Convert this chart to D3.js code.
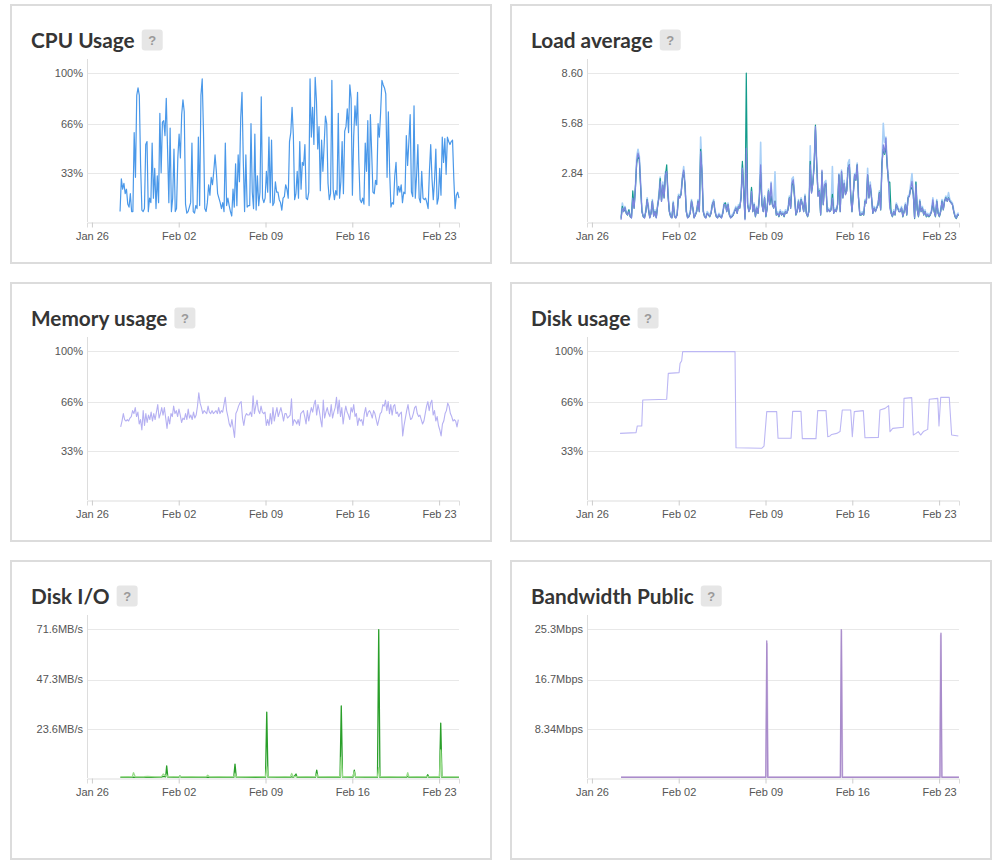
<!DOCTYPE html>
<html>
<head>
<meta charset="utf-8">
<script src="https://cdn.jsdelivr.net/npm/d3@7"></script>
<style>
  body { margin: 0; background: #fff; }
</style>
</head>
<body>
<script>
// days are counted from Jan 25 00:00, the view covers the last 30 days
var viewStart = 0.604, viewEnd = 30.604;
var tickDays = ['Jan 26', 'Feb 02', 'Feb 09', 'Feb 16', 'Feb 23'];

var cpuValues = [7,29,22,26,19,22,12,10,19,7,7,60,30,85,90,85,38,8,7,9,52,54,7,16,13,53,16,36,9,31,
  13,73,33,67,68,58,83,49,13,63,7,16,49,7,9,43,59,43,72,82,74,12,6,7,10,13,53,7,6,11,
  9,57,11,85,96,60,9,7,13,25,18,30,25,34,45,34,19,16,13,9,13,7,53,11,16,11,7,4,22,10,
  39,11,45,27,70,87,41,7,45,10,11,11,66,20,9,59,8,31,11,20,84,16,13,16,34,20,57,13,55,11,
  13,27,20,20,15,13,8,16,17,25,22,16,54,60,
  77,58,15,19,34,16,54,22,40,38,52,16,15,20,96,57,77,52,97,81,49,64,21,55,34,52,71,66,26,15,
  19,95,22,15,21,18,73,16,27,54,19,61,64,76,60,92,83,18,57,78,65,87,41,15,13,16,12,53,34,68,
  11,72,47,20,19,28,25,66,57,74,95,92,90,86,30,74,34,10,13,12,31,40,18,24,20,25,13,20,19,58,
  38,54,72,20,17,78,16,31,52,16,13,34,16,15,16,13,9,34,52,29,15,28,49,12,16,36,18,57,40,56,
  32,57,54,52,54,55,29,9,18,20,16];
var cpuSpan = [3.27, 30.6];

var load1 = [0.2,0.9,0.6,0.8,0.5,0.4,0.7,0.3,0.25,1.8,0.8,2.0,3.4,3.8,3.6,2.0,0.6,0.3,0.25,0.6,
  1.3,0.7,0.25,0.5,1.2,0.35,0.6,0.25,0.9,1.4,2.5,1.2,2.1,1.4,2.7,3.3,1.5,0.6,0.3,0.25,
  1.1,0.3,0.25,0.4,1.5,1.4,1.6,2.5,2.9,2.1,0.6,0.25,0.3,0.5,1.2,0.8,0.25,0.4,0.6,1.2,
  0.6,4.2,2.8,0.6,0.3,0.25,0.5,0.4,0.3,0.5,1.0,1.2,0.6,0.3,0.25,0.4,0.3,0.25,0.5,1.0,
  1.1,0.6,1.0,0.4,0.25,0.3,0.4,0.6,0.8,0.5,0.9,0.8,1.4,3.5,1.8,0.2,8.6,1.0,0.6,0.8,
  2.0,0.6,1.0,0.3,0.8,0.5,1.4,2.85,1.0,0.6,1.4,0.3,0.8,1.8,1.0,1.5,1.0,0.8,1.2,0.4,
  0.5,0.3,0.6,0.4,0.5,0.3,0.6,0.5,0.7,1.4,0.8,
  2.1,2.3,1.4,0.4,0.6,1.2,0.6,1.3,1.0,0.6,1.5,0.5,0.3,0.6,3.5,1.7,2.2,3.2,5.6,3.2,
  1.5,1.8,0.4,2.9,1.0,2.1,2.2,0.6,0.7,0.6,0.7,1.6,0.5,0.7,0.6,1.0,2.7,0.6,2.9,1.4,
  2.2,1.6,1.8,3.1,3.3,1.6,0.6,1.6,2.7,2.4,3.3,1.4,0.4,0.4,0.5,0.4,1.2,1.1,2.7,1.4,
  2.1,1.4,0.5,0.8,0.6,0.8,1.0,1.7,0.7,3.4,4.2,3.9,4.4,3.2,2.3,2.3,0.5,0.3,0.6,0.4,
  1.0,0.8,0.6,0.6,0.8,0.3,0.6,1.0,0.4,1.4,1.5,1.9,2.0,1.6,0.2,2.3,0.7,0.3,1.2,0.6,
  0.8,0.4,0.6,0.3,0.4,0.3,0.4,0.6,1.1,0.6,0.3,1.2,0.5,0.3,0.6,1.2,0.7,1.2,1.4,1.2,
  1.4,1.2,1.1,1.0,0.6,0.3,0.2,0.4,0.4];
var load5 = [0.13,0.8,0.6,0.85,0.5,0.42,0.6,0.33,0.23,1.38,0.8,1.96,3.5,3.97,3.69,2.15,0.6,0.33,0.23,0.6,
  1.28,0.8,0.23,0.5,1.19,0.33,0.6,0.23,0.9,1.38,2.34,1.19,2.15,1.38,2.73,2.92,1.57,0.6,0.33,0.23,
  1.1,0.33,0.23,0.42,1.48,1.38,1.57,2.53,3.0,2.15,0.6,0.23,0.33,0.5,1.19,0.8,0.23,0.42,0.6,1.19,
  0.6,4.07,2.92,0.6,0.33,0.23,0.5,0.42,0.33,0.5,1.0,1.19,0.6,0.33,0.23,0.42,0.33,0.23,0.5,1.0,
  1.0,0.6,1.0,0.42,0.23,0.33,0.42,0.6,0.8,0.5,0.9,0.8,1.38,3.11,1.77,0.13,4.26,1.0,0.6,0.8,
  1.77,0.6,1.0,0.33,0.8,0.5,1.38,3.3,1.0,0.6,1.38,0.33,0.8,1.77,1.0,2.25,1.0,0.8,1.19,0.42,
  0.5,0.33,0.6,0.42,0.5,0.33,0.6,0.5,0.71,1.38,0.8,
  2.25,2.44,1.48,0.42,0.6,1.19,0.6,1.28,1.0,0.6,1.48,0.5,0.33,0.6,3.3,1.67,2.25,3.3,5.5,3.3,
  1.48,1.77,0.42,3.0,1.0,2.15,2.25,0.6,0.71,0.6,0.71,1.38,0.5,0.71,0.6,1.0,2.73,0.6,2.92,1.38,
  2.25,1.57,1.77,3.11,3.3,1.57,0.6,1.57,2.73,2.44,3.3,1.38,0.42,0.42,0.5,0.42,1.19,1.1,2.73,1.38,
  2.15,1.38,0.5,0.8,0.6,0.8,1.0,1.67,0.71,3.3,4.45,3.97,4.84,3.3,2.34,0.8,0.5,0.33,0.6,0.42,
  1.0,0.8,0.6,0.6,0.8,0.33,0.6,1.0,0.42,1.38,1.48,1.96,2.34,1.57,0.23,2.15,0.71,0.33,1.19,0.6,
  0.8,0.42,0.6,0.33,0.42,0.33,0.42,0.6,1.28,0.6,0.33,1.19,0.5,0.33,0.6,1.19,0.71,1.19,1.38,1.19,
  1.38,1.19,1.1,1.0,0.6,0.33,0.23,0.42,0.42];
var load15 = [0.3,1.1,0.7,0.9,0.6,0.5,0.7,0.4,0.3,1.4,0.9,2.0,3.8,4.2,3.8,2.3,0.7,0.4,0.3,0.7,
  1.4,0.9,0.3,0.6,1.3,0.4,0.7,0.3,1.0,1.6,2.6,1.3,2.3,1.5,2.9,2.9,1.7,0.7,0.4,0.3,
  1.2,0.4,0.3,0.5,1.6,1.5,1.7,2.6,3.2,2.3,0.7,0.3,0.4,0.6,1.3,0.9,0.3,0.5,0.7,1.3,
  0.7,4.9,3.3,0.7,0.4,0.3,0.6,0.5,0.4,0.6,1.1,1.3,0.7,0.4,0.3,0.5,0.4,0.3,0.6,1.1,
  1.1,0.7,1.1,0.5,0.3,0.4,0.5,0.7,0.9,0.6,1.0,0.9,1.5,3.3,1.9,0.3,4.0,1.1,0.7,0.9,
  1.9,0.7,1.1,0.4,0.9,0.6,1.5,4.6,1.1,0.7,1.5,0.4,0.9,1.9,1.1,2.3,1.1,0.9,2.9,0.5,
  0.6,0.4,0.7,0.5,0.6,0.4,0.7,0.6,0.8,1.5,0.9,
  2.5,2.6,1.6,0.5,0.7,1.3,0.7,1.4,1.1,0.7,1.6,0.6,0.4,0.7,4.4,1.8,2.4,3.4,5.3,3.4,
  1.6,1.9,0.5,2.6,1.1,2.3,2.4,0.7,0.8,0.7,0.8,3.2,0.6,0.8,0.7,1.1,2.8,0.7,3.0,1.5,
  2.4,1.7,1.9,3.4,3.6,1.7,0.7,1.7,2.8,2.6,3.4,1.5,0.5,0.5,0.6,0.5,1.3,1.2,3.1,1.5,
  2.3,1.5,0.6,0.9,0.7,0.9,1.1,1.8,0.8,3.5,5.7,4.6,4.9,3.4,2.5,0.9,0.6,0.4,0.7,0.5,
  1.1,0.9,0.7,0.7,0.9,0.4,0.7,1.1,0.5,1.5,1.6,2.2,2.8,1.7,0.3,2.3,0.8,0.4,1.3,0.7,
  0.9,0.5,0.7,0.4,0.5,0.4,0.5,0.7,1.4,0.7,0.4,1.3,0.6,0.4,0.7,1.3,0.8,1.3,1.5,1.3,
  1.7,1.3,1.2,1.1,0.7,0.4,0.3,0.5,0.5];
var loadSpan = [3.35, 30.6];

var memValues = [49,53,58,54,53,54,53,55,56,60,58,62,56,59,51,54,47,60,50,58,52,57,54,59,53,58,54,59,64,55,
  58,62,57,62,55,48,56,51,58,56,63,58,60,56,61,57,52,55,54,58,54,61,55,57,54,59,55,57,63,72,
  65,62,58,60,59,58,63,59,58,60,58,59,60,58,62,58,60,59,64,69,60,56,51,49,54,48,42,58,60,63,
  65,66,55,50,56,58,57,57,59,56,70,58,63,67,60,58,63,59,58,59,50,54,50,58,51,62,53,58,62,56,
  59,62,58,53,58,58,55,56,
  57,68,50,54,53,51,54,50,58,59,60,56,51,60,53,58,62,59,64,67,57,64,60,54,49,67,55,59,62,58,
  56,64,55,59,62,69,58,67,56,62,51,58,63,59,57,54,62,59,64,56,58,50,55,53,54,50,58,62,56,59,
  60,58,55,60,58,54,50,54,58,59,64,63,67,60,66,58,64,57,63,64,58,59,56,58,59,43,50,55,60,64,
  58,54,55,58,62,63,58,56,57,54,51,53,58,63,66,60,65,67,57,60,53,56,50,47,43,51,53,58,60,65,
  63,58,56,53,54,53,49,54];
var memSpan = [3.32, 30.55];

var diskDays = [3.27,4.56,4.66,5.02,5.10,7.03,7.16,8.03,8.11,8.24,8.32,12.54,12.62,14.69,14.88,15.10,15.90,16.01,17.06,17.19,
  17.86,17.97,19.07,19.21,19.88,20.02,20.20,20.34,20.74,21.01,21.19,21.87,22.00,22.16,22.89,23.02,24.10,24.23,24.64,24.93,
  25.04,25.26,26.11,26.17,26.79,26.92,27.14,27.32,27.51,27.73,28.08,28.21,28.89,28.99,29.13,29.82,30.01,30.55];
var diskValues = [44.7,45.2,49.7,49.7,67.1,67.6,85.0,85.5,91.7,93.5,99.6,99.6,35.1,34.7,36.2,59.3,59.3,41.4,41.4,59.5,
  59.5,41.2,41.2,60,60,42.5,43,44,44.7,45.9,60.4,60.4,42.5,59.3,60,41.8,42,60.4,61.5,63.3,
  45.9,48.1,48.8,68.2,68.7,43.6,44.7,45.9,43.6,45.9,47.4,67.6,68.2,49.7,68.9,68.9,43.6,43];

var ioDays = [3.3,3.9,4.25,4.35,4.5,5.2,5.5,6.1,6.6,6.75,6.95,7.03,7.12,7.6,8.0,8.1,8.2,9.0,9.6,10.2,
  10.34,10.5,11.2,11.9,12.44,12.54,12.64,13.4,14.2,15.0,15.1,15.2,16.0,16.6,17.0,17.11,17.25,17.46,17.55,18.3,
  19.03,19.13,19.23,20.1,21.01,21.11,21.21,22.06,22.16,22.26,23.1,24.03,24.13,24.23,25.0,25.7,26.37,26.47,26.57,27.2,
  27.98,28.08,28.18,28.6,29.03,29.13,29.23,29.9,30.6];
var ioRead = [0.3,0.3,0.3,0.4,0.3,0.3,0.3,0.3,0.4,0.8,0.6,5.8,0.4,0.3,0.3,1.0,0.3,0.3,0.3,0.3,
  0.4,0.3,0.3,0.3,0.3,6.7,0.4,0.3,0.3,0.3,31.7,0.4,0.3,0.3,0.3,0.6,0.3,1.9,0.3,0.3,
  0.3,3.8,0.3,0.3,0.3,34.6,0.4,0.4,3.8,0.4,0.3,0.3,71.3,0.3,0.3,0.3,0.3,0.8,0.3,0.3,
  0.3,1.6,0.3,0.3,0.3,26.4,0.3,0.3,0.3];
var ioWrite = [0.5,0.7,0.5,2.6,0.5,0.6,0.8,0.5,0.6,1.9,1.0,1.5,0.5,0.6,0.5,0.8,0.5,0.7,0.5,0.5,
  1.3,0.5,0.6,0.5,0.6,2.0,0.6,0.5,0.7,0.6,5.4,0.6,0.5,0.6,0.5,2.2,0.5,0.8,0.5,0.6,
  0.5,2.0,0.5,0.7,0.6,10,0.6,0.8,3.0,0.6,0.5,0.5,5,0.5,0.6,0.5,0.6,2.6,0.5,0.7,
  0.5,0.8,0.5,0.6,0.6,13.5,0.6,0.5,0.5];

var bwOutDays = [3.35,15.02,15.10,15.18,21.03,21.11,21.19,29.07,29.15,29.23,30.6];
var bwOut = [0.1,0.1,23.3,0.1,0.1,25.2,0.1,0.1,24.6,0.1,0.1];
var bwInDays = [3.35,15.05,15.13,15.21,21.06,21.14,21.22,29.04,29.12,29.20,30.6];
var bwIn = [0.2,0.2,22.8,0.2,0.2,25.0,0.2,0.2,24.3,0.2,0.2];

var pctTicks = [33, 66, 100], pctLabels = ['33%', '66%', '100%'];

var T0 = new Date(2019, 0, 25);
function toDate(d) { return new Date(+T0 + d * 864e5); }

// evenly sampled values spread over [start, end] days
function sampled(values, span) {
  var idx = d3.scaleLinear().domain([0, values.length - 1]).range(span);
  return values.map(function (v, i) { return [idx(i), v]; });
}
function paired(days, values) {
  return days.map(function (d, i) { return [d, values[i]]; });
}

var svg = d3.select('body').append('svg')
  .attr('width', 997)
  .attr('height', 864);

var LABEL_FONT = '11px "Liberation Sans", Arial, sans-serif';

function drawPanel(p) {
  var ox = p.col === 0 ? 10 : 510;
  var oy = [4, 282, 560][p.row];
  var ph = p.row === 2 ? 300 : 260;
  var g = svg.append('g').attr('transform', 'translate(' + ox + ',' + oy + ')');

  g.append('rect')
    .attr('x', 1).attr('y', 1)
    .attr('width', 480).attr('height', ph - 2)
    .attr('fill', '#fff')
    .attr('stroke', '#dcdcdc')
    .attr('stroke-width', 2);

  var title = g.append('text')
    .attr('x', 21).attr('y', 44)
    .attr('fill', '#353535')
    .style('font', '700 20.8px Lato, sans-serif')
    .text(p.title);
  var tw = title.node().getComputedTextLength();
  g.append('rect')
    .attr('x', 21 + tw + 7).attr('y', 25.5)
    .attr('width', 21).attr('height', 21)
    .attr('rx', 3)
    .attr('fill', '#e6e6e6');
  g.append('text')
    .attr('x', 21 + tw + 7 + 10.5).attr('y', 40.5)
    .attr('text-anchor', 'middle')
    .attr('fill', '#9a9a9a')
    .style('font', '700 13px "Liberation Sans", Arial, sans-serif')
    .text('?');

  var x = d3.scaleTime()
    .domain([toDate(viewStart), toDate(viewEnd)])
    .range([77, 449]);
  var y = d3.scaleLinear()
    .domain([0, p.yMax])
    .range([218, 69]);

  g.selectAll('.grid').data(p.ticks).enter().append('line')
    .attr('x1', 77).attr('x2', 449)
    .attr('y1', function (d) { return Math.round(y(d)) + 0.5; })
    .attr('y2', function (d) { return Math.round(y(d)) + 0.5; })
    .attr('stroke', '#e8e8e8');

  g.selectAll('.ylab').data(p.ticks).enter().append('text')
    .attr('x', 73)
    .attr('y', function (d) { return y(d); })
    .attr('dy', '0.35em')
    .attr('text-anchor', 'end')
    .attr('fill', '#555')
    .style('font', LABEL_FONT)
    .text(function (d, i) { return p.labels[i]; });

  g.append('line')
    .attr('x1', 77.5).attr('x2', 77.5)
    .attr('y1', 55).attr('y2', 218)
    .attr('stroke', '#dddddd');

  var parse = d3.timeParse('%b %d %Y');
  var xAxis = d3.axisBottom(x)
    .tickValues(tickDays.map(function (t) { return parse(t + ' 2019'); }))
    .tickFormat(d3.timeFormat('%b %d'))
    .tickSize(5)
    .tickPadding(5);
  var ax = g.append('g')
    .attr('transform', 'translate(0,218.5)')
    .call(xAxis);
  ax.select('.domain').attr('stroke', '#dddddd');
  ax.selectAll('.tick line').attr('stroke', '#cccccc');
  ax.selectAll('.tick text')
    .attr('fill', '#555')
    .style('font', LABEL_FONT);

  var line = d3.line()
    .x(function (d) { return x(toDate(d[0])); })
    .y(function (d) { return y(d[1]); });

  p.series.forEach(function (s) {
    g.append('path')
      .datum(s.points)
      .attr('d', line)
      .attr('fill', 'none')
      .attr('stroke', s.color)
      .attr('stroke-width', s.width || 1.2)
      .attr('stroke-linejoin', 'round');
  });
}

drawPanel({
  col: 0, row: 0, title: 'CPU Usage', yMax: 100, ticks: pctTicks, labels: pctLabels,
  series: [{ points: sampled(cpuValues, cpuSpan), color: '#4a98e9' }]
});
drawPanel({
  col: 1, row: 0, title: 'Load average', yMax: 8.6, ticks: [2.84, 5.68, 8.6], labels: ['2.84', '5.68', '8.60'],
  series: [
    { points: sampled(load15, loadSpan), color: '#a9d0f7', width: 1.6 },
    { points: sampled(load1, loadSpan), color: '#139b8b', width: 1.2 },
    { points: sampled(load5, loadSpan), color: '#7f86df', width: 1.2 }
  ]
});
drawPanel({
  col: 0, row: 1, title: 'Memory usage', yMax: 100, ticks: pctTicks, labels: pctLabels,
  series: [{ points: sampled(memValues, memSpan), color: '#b5b0f2', width: 1.1 }]
});
drawPanel({
  col: 1, row: 1, title: 'Disk usage', yMax: 100, ticks: pctTicks, labels: pctLabels,
  series: [{ points: paired(diskDays, diskValues), color: '#bcb7f4', width: 1.1 }]
});
drawPanel({
  col: 0, row: 2, title: 'Disk I/O', yMax: 71.6, ticks: [23.6, 47.3, 71.6], labels: ['23.6MB/s', '47.3MB/s', '71.6MB/s'],
  series: [
    { points: paired(ioDays, ioRead), color: '#2a9f2a', width: 1.3 },
    { points: paired(ioDays, ioWrite), color: '#9bdc8c', width: 1.3 }
  ]
});
drawPanel({
  col: 1, row: 2, title: 'Bandwidth Public', yMax: 25.3, ticks: [8.34, 16.7, 25.3], labels: ['8.34Mbps', '16.7Mbps', '25.3Mbps'],
  series: [
    { points: paired(bwInDays, bwIn), color: '#dccbe8', width: 1.4 },
    { points: paired(bwOutDays, bwOut), color: '#a98ccb', width: 1.3 }
  ]
});
</script>
</body>
</html>
